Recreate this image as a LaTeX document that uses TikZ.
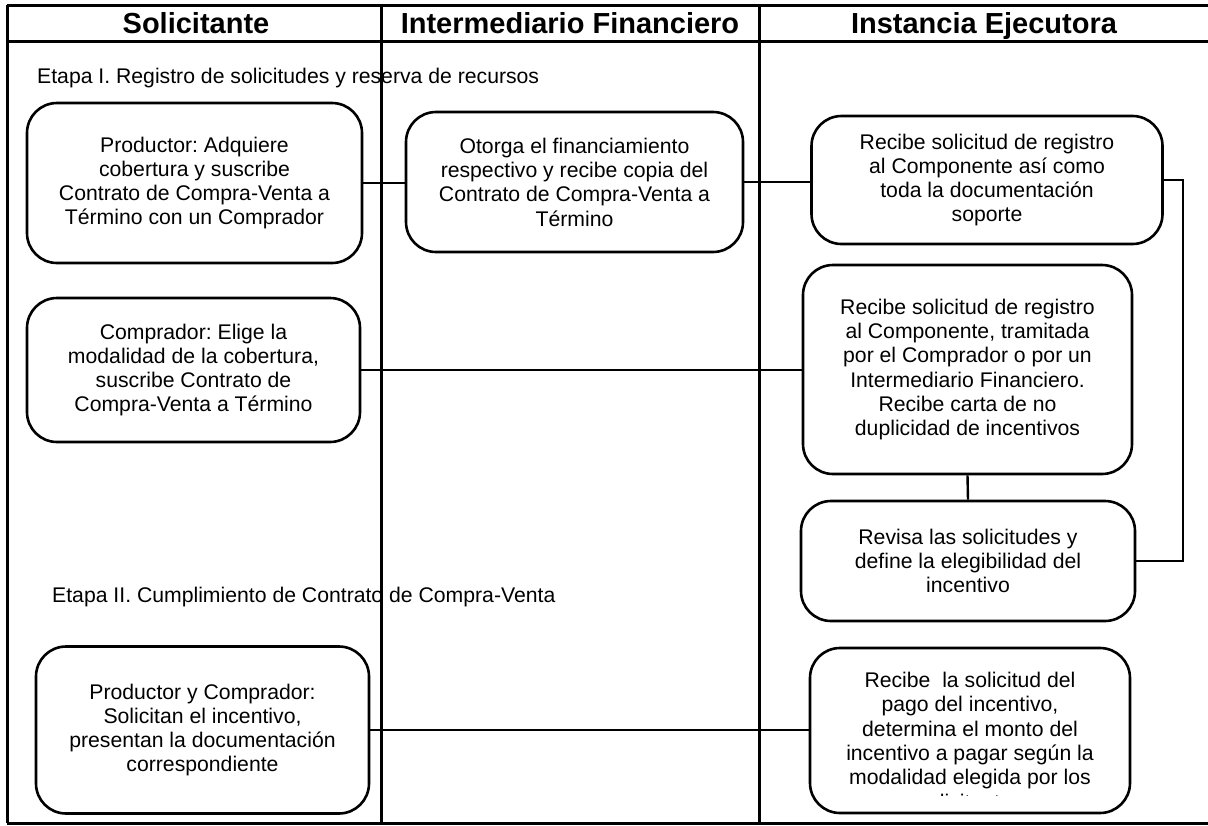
\documentclass[tikz,border=0pt]{standalone}
\usepackage{fontspec}
\setmainfont{Liberation Sans}
\frenchspacing
\begin{document}
\begin{tikzpicture}[x=1pt,y=-1pt,
  box/.style={draw, line width=2.6pt, rounded corners=30pt, align=center,
    font=\fontsize{21.2}{24.3}\selectfont, inner sep=0pt},
  lane/.style={line width=3pt},
  conn/.style={line width=2.4pt},
  hdr/.style={font=\fontsize{29}{33}\selectfont\bfseries, inner sep=0pt, anchor=base},
  stage/.style={font=\fontsize{21.2}{24.3}\selectfont, anchor=west, inner sep=0pt},
  txt/.style={align=center, font=\fontsize{21.2}{24.3}\selectfont, inner sep=0pt}]
\useasboundingbox (0,0) rectangle (1208,825);
\fill[white] (0,0) rectangle (1208,825);
% lanes
\draw[lane] (7,5) -- (1208,5);
\draw[lane] (7,41) -- (1208,41);
\draw[lane] (7,823) -- (1208,823);
\draw[lane] (7,5) -- (7,823);
\draw[lane] (381,5) -- (381,823);
\draw[lane] (759,5) -- (759,823);
\node[hdr] (h1) at (196,33.5) {Solicitante};
\node[hdr] (h2) at (570,33.5) {Intermediario Financiero};
\node[hdr] (h3) at (984,33.5) {Instancia Ejecutora};
\node[stage] (e1) at (37,78) {Etapa I. Registro de solicitudes y reserva de recursos};
\node[stage] (e2) at (52,597) {Etapa II. Cumplimiento de Contrato de Compra-Venta};
% boxes
\node[box, minimum width=335pt, minimum height=160pt] (p1) at (194.5,183)
  {Productor: Adquiere\\cobertura y suscribe\\Contrato de Compra-Venta a\\Término con un Comprador};
\node[box, minimum width=337pt, minimum height=140pt] (if) at (574.5,182)
  {Otorga el financiamiento\\respectivo y recibe copia del\\Contrato de Compra-Venta a\\Término};
\node[box, minimum width=351pt, minimum height=128pt] (ie1) at (987,180)
  {Recibe solicitud de registro\\al Componente así como\\toda la documentación\\soporte};
\node[box, minimum width=333pt, minimum height=144pt] (p2) at (193.5,370)
  {Comprador: Elige la\\modalidad de la cobertura,\\suscribe Contrato de\\Compra-Venta a Término};
\node[box, minimum width=329pt, minimum height=209pt] (ie2) at (967.5,369.5)
  {Recibe solicitud de registro\\al Componente, tramitada\\por el Comprador o por un\\Intermediario Financiero.\\Recibe carta de no\\duplicidad de incentivos};
\node[box, minimum width=334pt, minimum height=120pt] (ie3) at (968,561)
  {Revisa las solicitudes y\\define la elegibilidad del\\incentivo};
\node[box, minimum width=333pt, minimum height=167pt] (p3) at (202.5,730)
  {Productor y Comprador:\\Solicitan el incentivo,\\presentan la documentación\\correspondiente};
\node[box, minimum width=320pt, minimum height=165pt] (ie4) at (970,730.5) {};
\begin{scope}
  \clip (812,650) rectangle (1128,795.5);
  \node[txt, anchor=north] (ie4t) at (970,672)
    {Recibe\ \ la solicitud del\\pago del incentivo,\\determina el monto del\\incentivo a pagar según la\\modalidad elegida por los\\solicitantes};
\end{scope}
% connectors
\coordinate (rt) at (1183,0);
\draw[conn] (p1.east) -- (p1.east -| if.west);
\draw[conn] (if.east) -- (if.east -| ie1.west);
\draw[conn] (ie1.east) -- (ie1.east -| rt) -- (ie3.east -| rt) -- (ie3.east);
\draw[conn] (p2.east) -- (p2.east -| ie2.west);
\draw[conn] (ie2.south) -- (ie3.north);
\draw[conn] (p3.east) -- (p3.east -| ie4.west);
\end{tikzpicture}
\end{document}
